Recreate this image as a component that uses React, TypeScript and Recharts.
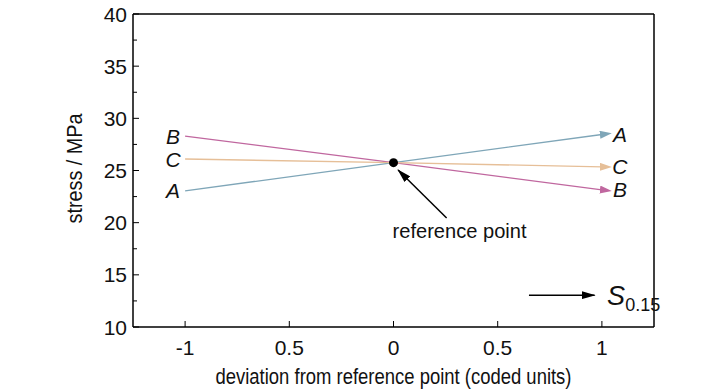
import { LineChart, Line, XAxis, YAxis, ReferenceLine, ReferenceDot, Label } from 'recharts'

const xTicks = [-1, -0.5, 0, 0.5, 1]
const xTickLabels = ['-1', '0.5', '0', '0.5', '1']
const yTicks = [10, 12.5, 15, 17.5, 20, 22.5, 25, 27.5, 30, 32.5, 35, 37.5, 40]

const refPoint = { x: 0, y: 25.75 }
const seriesA = [{ x: -1, y: 23.05 }, { x: 0, y: 25.75 }, { x: 1, y: 28.45 }]
const seriesB = [{ x: -1, y: 28.3 }, { x: 0, y: 25.75 }, { x: 1, y: 23.15 }]
const seriesC = [{ x: -1, y: 26.1 }, { x: 0, y: 25.75 }, { x: 1, y: 25.35 }]
const refArrow = [{ x: 0.255, y: 20.45 }, { x: 0.022, y: 25.05 }]
const sArrow = [{ x: 0.65, y: 13.05 }, { x: 0.965, y: 13.05 }]

const FONT = '"Liberation Sans", Arial, sans-serif'
const X_MARGIN = 11

const COLORS = { A: '#7fa6b8', B: '#c0679f', C: '#e6bf98' }

function XTick(props: any) {
  const { x, y, index } = props
  return (
    <g>
      <line x1={x} x2={x} y1={y - X_MARGIN} y2={y - X_MARGIN - 6} stroke="#000" strokeWidth={1} />
      <text x={x} y={y} dy="0.8em" textAnchor="middle" fontSize={21} fontFamily={FONT} fill="#111">
        {xTickLabels[index]}
      </text>
    </g>
  )
}

function YTick(props: any) {
  const { x, y, payload } = props
  const major = payload.value % 5 === 0
  return (
    <g>
      <line x1={x + 8} x2={x + 8 + (major ? 6 : 4)} y1={y} y2={y} stroke="#000" strokeWidth={1} />
      {major && (
        <text x={x + 2} y={y} dy="0.36em" textAnchor="end" fontSize={21} fontFamily={FONT} fill="#111">
          {payload.value}
        </text>
      )}
    </g>
  )
}

function letterLabel(name: string) {
  return (p: any) => {
    if (p.index === 1) return null
    const left = p.index === 0
    return (
      <text
        key={name + p.index}
        x={left ? p.x - 12 : p.x + 18}
        y={p.y}
        dy="0.36em"
        textAnchor="middle"
        fontSize={21}
        fontStyle="italic"
        fontFamily={FONT}
        fill="#111"
      >
        {name}
      </text>
    )
  }
}

export default function App() {
  return (
    <div style={{ position: 'absolute', left: 0, top: 0, background: '#fff' }}>
      <svg width={0} height={0} style={{ position: 'absolute' }}>
        <defs>
          {(['A', 'B', 'C'] as const).map((k) => (
            <marker key={k} id={'arr' + k} viewBox="0 0 12 8" refX={2} refY={4} markerWidth={12} markerHeight={8} markerUnits="userSpaceOnUse" orient="auto">
              <path d="M0,0 L12,4 L0,8 z" fill={COLORS[k]} />
            </marker>
          ))}
          <marker id="arrK" viewBox="0 0 14 8" refX={13} refY={4} markerWidth={14} markerHeight={8} markerUnits="userSpaceOnUse" orient="auto">
            <path d="M0,0 L14,4 L0,8 z" fill="#000" />
          </marker>
        </defs>
      </svg>
      <LineChart width={728} height={390} margin={{ top: 14, right: 74, bottom: 23, left: 73 }}>
        <XAxis
          type="number"
          dataKey="x"
          domain={[-1.25, 1.25]}
          ticks={xTicks}
          allowDataOverflow
          axisLine={{ stroke: '#000', strokeWidth: 1.5 }}
          tickLine={false}
          tickSize={0}
          tickMargin={X_MARGIN}
          height={40}
          tick={<XTick />}
        >
          <Label
            content={({ viewBox }: any) => (
              <text
                x={viewBox.x + viewBox.width / 2}
                y={384}
                textAnchor="middle"
                fontSize={22}
                textLength={356}
                lengthAdjust="spacingAndGlyphs"
                fontFamily={FONT}
                fill="#111"
              >
                deviation from reference point (coded units)
              </text>
            )}
          />
        </XAxis>
        <YAxis
          type="number"
          domain={[10, 40]}
          ticks={yTicks}
          interval={0}
          allowDataOverflow
          axisLine={{ stroke: '#000', strokeWidth: 1.5 }}
          tickLine={false}
          tickSize={0}
          tickMargin={8}
          width={60}
          tick={<YTick />}
        >
          <Label
            content={({ viewBox }: any) => {
              const cy = viewBox.y + viewBox.height / 2 - 2
              return (
                <text
                  x={82}
                  y={cy}
                  transform={`rotate(-90 82 ${cy})`}
                  textAnchor="middle"
                  fontSize={22}
                  textLength={110}
                  lengthAdjust="spacingAndGlyphs"
                  fontFamily={FONT}
                  fill="#111"
                >
                  stress / MPa
                </text>
              )
            }}
          />
        </YAxis>
        <ReferenceLine y={40} stroke="#000" strokeWidth={1.5} />
        <ReferenceLine x={1.25} stroke="#000" strokeWidth={1.5} />
        <Line data={seriesA} dataKey="y" stroke={COLORS.A} strokeWidth={1.3} dot={false} isAnimationActive={false} markerEnd="url(#arrA)" label={letterLabel('A')} />
        <Line data={seriesB} dataKey="y" stroke={COLORS.B} strokeWidth={1.3} dot={false} isAnimationActive={false} markerEnd="url(#arrB)" label={letterLabel('B')} />
        <Line data={seriesC} dataKey="y" stroke={COLORS.C} strokeWidth={1.3} dot={false} isAnimationActive={false} markerEnd="url(#arrC)" label={letterLabel('C')} />
        <Line data={refArrow} dataKey="y" stroke="#000" strokeWidth={1.5} dot={false} isAnimationActive={false} markerEnd="url(#arrK)" />
        <Line data={sArrow} dataKey="y" stroke="#000" strokeWidth={1.5} dot={false} isAnimationActive={false} markerEnd="url(#arrK)" />
        <ReferenceDot x={refPoint.x} y={refPoint.y} r={4.5} fill="#000" stroke="none" />
        <ReferenceDot
          x={0.317}
          y={19.3}
          r={0}
          label={(p: any) => {
            const vb = p.viewBox
            const cx = vb.x + (vb.width || 0) / 2
            const cy = vb.y + (vb.height || 0) / 2
            return (
              <text x={cx} y={cy} dy="0.36em" textAnchor="middle" fontSize={21} textLength={134} lengthAdjust="spacingAndGlyphs" fontFamily={FONT} fill="#111">
                reference point
              </text>
            )
          }}
        />
        <ReferenceDot
          x={1.025}
          y={13.1}
          r={0}
          label={(p: any) => {
            const vb = p.viewBox
            const cx = vb.x + (vb.width || 0) / 2
            const cy = vb.y + (vb.height || 0) / 2
            return (
              <text x={cx} y={cy + 10} fontFamily={FONT} fill="#111">
                <tspan fontSize={27} fontStyle="italic">S</tspan>
                <tspan fontSize={18} dy={6}>0.15</tspan>
              </text>
            )
          }}
        />
      </LineChart>
    </div>
  )
}
